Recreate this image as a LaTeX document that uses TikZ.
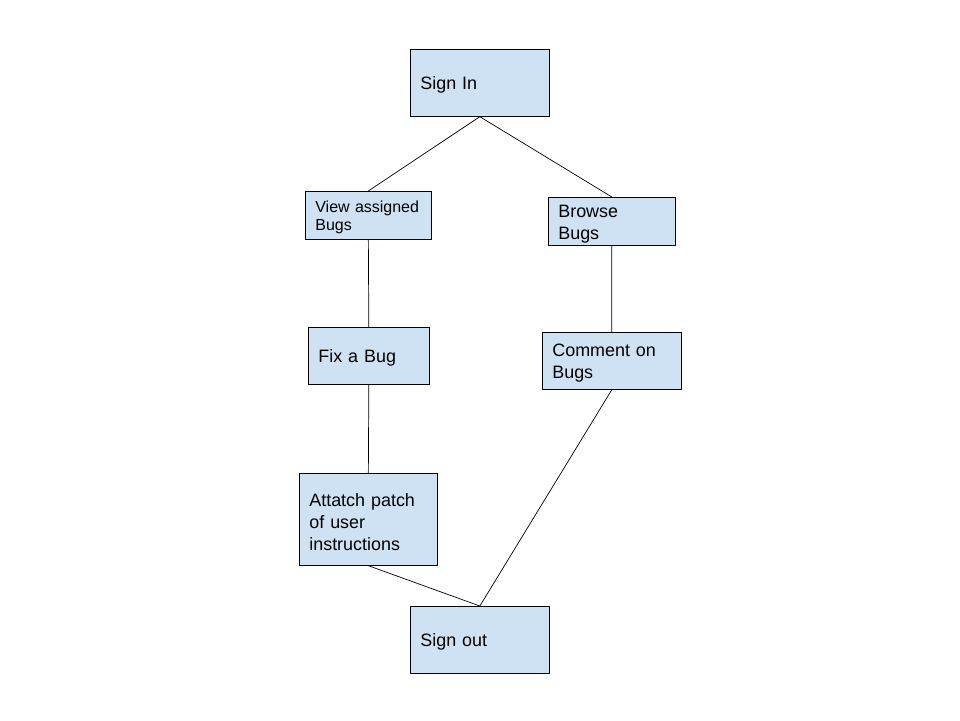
\documentclass[tikz,border=0pt]{standalone}
\usepackage{fontspec}
\setmainfont{Liberation Sans}
\usetikzlibrary{positioning}
\definecolor{boxblue}{HTML}{CFE2F3}

\begin{document}
\begin{tikzpicture}
  [x=0.02cm,y=-0.02cm,
   box/.style={rectangle,draw,fill=boxblue,anchor=north west,align=left,
     inner xsep=0.2cm,inner ysep=0pt,
     execute at end node={\endgraf\vspace{-2.8pt}},
     font=\fontsize{10.2pt}{12.5pt}\selectfont},
   small/.style={font=\fontsize{9.1pt}{10.2pt}\selectfont}]

  \useasboundingbox (0,0) rectangle (960,720);

  \node[box,text width=2.38cm,minimum height=1.34cm] (signin) at (410,49) {Sign In};
  \node[box,small,text width=2.12cm,minimum height=0.96cm] (viewbugs) at (305,191) {View assigned\\Bugs};
  \node[box,text width=2.14cm,minimum height=0.96cm] (browse) at (548,197) {Browse\\Bugs};
  \node[box,text width=2.02cm,minimum height=1.14cm] (fixbug) at (308,327) {Fix a Bug};
  \node[box,text width=2.38cm,minimum height=1.14cm] (comment) at (542,332) {Comment on\\Bugs};
  \node[box,text width=2.36cm,minimum height=1.84cm] (patch) at (299,473) {Attatch patch\\of user\\instructions};
  \node[box,text width=2.38cm,minimum height=1.34cm] (signout) at (410,606) {Sign out};

  \draw (signin.south) -- (viewbugs.north);
  \draw (signin.south) -- (browse.north);
  \draw (viewbugs.south) -- (fixbug.north);
  \draw (fixbug.south) -- (patch.north);
  \draw (browse.south) -- (comment.north);
  \draw (patch.south) -- (signout.north);
  \draw (comment.south) -- (signout.north);

\end{tikzpicture}
\end{document}
